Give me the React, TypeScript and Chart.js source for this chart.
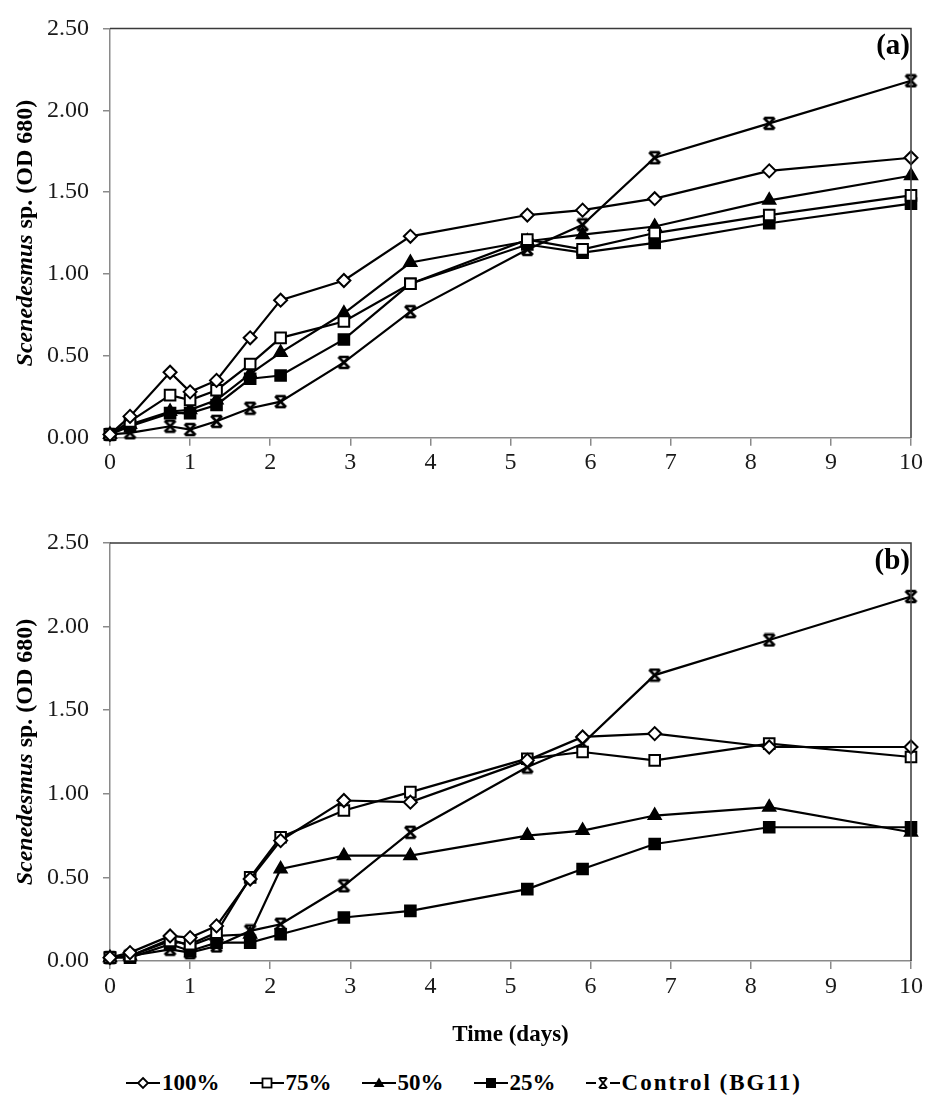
import React, { useEffect, useRef } from 'react';
import { Chart, registerables } from 'chart.js';

Chart.register(...registerables);

// ---------- data ----------
const days = [0, 0.25, 0.75, 1, 1.33, 1.75, 2.13, 2.92, 3.75, 5.21, 5.9, 6.8, 8.23, 10];
const xTickValues = [0, 1, 2, 3, 4, 5, 6, 7, 8, 9, 10];
const yTickValues = [0, 0.5, 1, 1.5, 2, 2.5];
const seriesLabels = ['100%', '75%', '50%', '25%', 'Control (BG11)'];

// panel (a)
const a100 = [0.02, 0.13, 0.40, 0.28, 0.35, 0.61, 0.84, 0.96, 1.23, 1.36, 1.39, 1.46, 1.63, 1.71];
const a75 = [0.02, 0.10, 0.26, 0.23, 0.29, 0.45, 0.61, 0.71, 0.94, 1.21, 1.15, 1.25, 1.36, 1.48];
const a50 = [0.02, 0.08, 0.16, 0.17, 0.23, 0.39, 0.52, 0.76, 1.07, 1.20, 1.24, 1.29, 1.45, 1.60];
const a25 = [0.02, 0.07, 0.15, 0.15, 0.20, 0.36, 0.38, 0.60, 0.94, 1.18, 1.13, 1.19, 1.31, 1.43];
const aControl = [0.02, 0.03, 0.07, 0.05, 0.10, 0.18, 0.22, 0.46, 0.77, 1.15, 1.30, 1.71, 1.92, 2.18];

// panel (b)
const b100 = [0.02, 0.05, 0.15, 0.14, 0.21, 0.49, 0.72, 0.96, 0.95, 1.20, 1.34, 1.36, 1.28, 1.28];
const b75 = [0.02, 0.03, 0.12, 0.10, 0.17, 0.50, 0.74, 0.90, 1.01, 1.21, 1.25, 1.20, 1.30, 1.22];
const b50 = [0.02, 0.03, 0.13, 0.09, 0.15, 0.16, 0.55, 0.63, 0.63, 0.75, 0.78, 0.87, 0.92, 0.77];
const b25 = [0.02, 0.02, 0.10, 0.06, 0.11, 0.11, 0.16, 0.26, 0.30, 0.43, 0.55, 0.70, 0.80, 0.80];
const bControl = [0.02, 0.03, 0.07, 0.05, 0.09, 0.18, 0.22, 0.45, 0.77, 1.16, 1.30, 1.71, 1.92, 2.18];

const FONT = "'Liberation Serif', 'Times New Roman', serif";

function makeHourglass(r: number): HTMLCanvasElement {
  const s = Math.ceil(r * 2 + 4);
  const c = document.createElement('canvas');
  c.width = s;
  c.height = s;
  const ctx = c.getContext('2d')!;
  const m = s / 2;
  ctx.strokeStyle = '#000';
  ctx.lineWidth = 2.6;
  ctx.beginPath();
  ctx.moveTo(m - r, m - r);
  ctx.lineTo(m + r, m + r);
  ctx.moveTo(m + r, m - r);
  ctx.lineTo(m - r, m + r);
  ctx.moveTo(m - r * 0.9, m - r);
  ctx.lineTo(m + r * 0.9, m - r);
  ctx.moveTo(m - r * 0.9, m + r);
  ctx.lineTo(m + r * 0.9, m + r);
  ctx.stroke();
  return c;
}

function buildDatasets(series: number[][], hourglass: HTMLCanvasElement) {
  const styles: any[] = [
    { pointStyle: 'rectRot', pointRadius: 6.5, pointBackgroundColor: '#fff' },
    { pointStyle: 'rect', pointRadius: 7.5, pointBackgroundColor: '#fff' },
    { pointStyle: 'triangle', pointRadius: 7, pointBackgroundColor: '#000' },
    { pointStyle: 'rect', pointRadius: 7.5, pointBackgroundColor: '#000' },
    { pointStyle: hourglass, pointRadius: 6, pointBackgroundColor: '#000' },
  ];
  return series.map((vals, i) => ({
    label: seriesLabels[i],
    data: days.map((d, j) => ({ x: d, y: vals[j] })),
    borderColor: '#000',
    borderWidth: 2.2,
    pointBorderColor: '#000',
    pointBorderWidth: 2,
    clip: false as any,
    ...styles[i],
  }));
}

const framePlugin = {
  id: 'frameAndLabels',
  afterDraw(chart: any) {
    const { ctx, chartArea } = chart;
    const o = chart.options.plugins.frameAndLabels;
    const { left, right, top, bottom } = chartArea;
    ctx.save();
    ctx.lineWidth = 1.5;
    ctx.strokeStyle = '#3a3a3a';
    ctx.beginPath();
    ctx.moveTo(left, top);
    ctx.lineTo(right, top);
    ctx.lineTo(right, bottom);
    ctx.stroke();

    // panel letter
    ctx.fillStyle = '#000';
    ctx.font = `bold 29px ${FONT}`;
    ctx.textAlign = 'right';
    ctx.textBaseline = 'top';
    ctx.fillText(o.panel, right - 1, top + 4);

    // y title
    const f1 = `italic bold 24px ${FONT}`;
    const f2 = `bold 24px ${FONT}`;
    const p1 = 'Scenedesmus';
    const p2 = ' sp. (OD 680)';
    ctx.font = f1;
    const w1 = ctx.measureText(p1).width;
    ctx.font = f2;
    const w2 = ctx.measureText(p2).width;
    const cy = (top + bottom) / 2;
    ctx.translate(26, cy);
    ctx.rotate(-Math.PI / 2);
    ctx.textAlign = 'left';
    ctx.textBaseline = 'middle';
    ctx.font = f1;
    ctx.fillText(p1, -(w1 + w2) / 2, 0);
    ctx.font = f2;
    ctx.fillText(p2, -(w1 + w2) / 2 + w1, 0);
    ctx.restore();

    if (o.xTitle) {
      ctx.save();
      ctx.fillStyle = '#000';
      ctx.font = `bold 23px ${FONT}`;
      ctx.textAlign = 'center';
      ctx.textBaseline = 'middle';
      ctx.fillText(o.xTitle, (left + right) / 2, o.xTitleY);
      ctx.restore();
    }
  },
};

function makeConfig(series: number[][], panel: string, hourglass: HTMLCanvasElement, padTop: number, xAxisH: number, xTitle?: string, xTitleY?: number): any {
  return {
    type: 'line',
    data: { datasets: buildDatasets(series, hourglass) },
    plugins: [framePlugin],
    options: {
      responsive: false,
      animation: false,
      layout: { padding: { left: 0, right: 17, top: padTop, bottom: 0 }, autoPadding: false },
      plugins: {
        legend: { display: false },
        tooltip: { enabled: false },
        frameAndLabels: { panel, xTitle, xTitleY },
      },
      scales: {
        x: {
          type: 'linear',
          min: 0,
          max: 10,
          afterBuildTicks: (s: any) => { s.ticks = xTickValues.map((v) => ({ value: v })); },
          afterFit: (s: any) => { s.height = xAxisH; },
          ticks: {
            color: '#1a1a1a',
            font: { family: FONT, size: 24 },
            padding: 3,
            maxRotation: 0,
            callback: (v: number) => String(v),
          },
          grid: { drawOnChartArea: false, drawTicks: true, tickLength: 8, color: '#8a8a8a', lineWidth: 1.5 },
          border: { display: true, color: '#8a8a8a', width: 1.5 },
        },
        y: {
          type: 'linear',
          min: 0,
          max: 2.5,
          afterBuildTicks: (s: any) => { s.ticks = yTickValues.map((v) => ({ value: v })); },
          afterFit: (s: any) => { s.width = 110; },
          ticks: {
            color: '#1a1a1a',
            font: { family: FONT, size: 24 },
            padding: 14,
            callback: (v: number) => v.toFixed(2),
          },
          grid: { drawOnChartArea: false, drawTicks: true, tickLength: 7, color: '#8a8a8a', lineWidth: 1.5 },
          border: { display: true, color: '#8a8a8a', width: 1.5 },
        },
      },
    },
  };
}

function LegendMarker({ kind }: { kind: number }) {
  let m: any = null;
  if (kind === 0) m = <polygon points="17,4 22,9 17,14 12,9" fill="#fff" stroke="#000" strokeWidth={1.8} />;
  if (kind === 1) m = <rect x={12.5} y={4.5} width={9} height={9} fill="#fff" stroke="#000" strokeWidth={1.8} />;
  if (kind === 2) m = <polygon points="17,3.5 22.5,13 11.5,13" fill="#000" />;
  if (kind === 3) m = <rect x={12} y={4} width={10} height={10} fill="#000" />;
  if (kind === 4)
    m = (
      <g stroke="#000" strokeWidth={2}>
        <line x1={13} y1={4} x2={21} y2={14} />
        <line x1={21} y1={4} x2={13} y2={14} />
        <line x1={13.5} y1={4} x2={20.5} y2={4} />
        <line x1={13.5} y1={14} x2={20.5} y2={14} />
      </g>
    );
  return (
    <svg width={34} height={18} style={{ display: 'block' }}>
      {kind === 4 ? (
        <>
          <line x1={0} y1={9} x2={10} y2={9} stroke="#000" strokeWidth={2} />
          <line x1={24} y1={9} x2={34} y2={9} stroke="#000" strokeWidth={2} />
        </>
      ) : (
        <line x1={0} y1={9} x2={34} y2={9} stroke="#000" strokeWidth={2} />
      )}
      {m}
    </svg>
  );
}

export default function App() {
  const refA = useRef<HTMLCanvasElement>(null);
  const refB = useRef<HTMLCanvasElement>(null);

  useEffect(() => {
    const hg = makeHourglass(5.5);
    const chartA = new Chart(refA.current!, makeConfig([a100, a75, a50, a25, aControl], '(a)', hg, 20, 490 - 437.7));
    const chartB = new Chart(
      refB.current!,
      makeConfig([b100, b75, b50, b25, bControl], '(b)', hg, 43, 560 - 461, 'Time (days)', 535)
    );
    return () => {
      chartA.destroy();
      chartB.destroy();
    };
  }, []);

  return (
    <div style={{ position: 'absolute', left: 0, top: 0, width: 928, height: 1106, background: '#fff', fontFamily: FONT }}>
      <canvas ref={refA} width={928} height={490} style={{ position: 'absolute', left: 0, top: 0 }} />
      <canvas ref={refB} width={928} height={560} style={{ position: 'absolute', left: 0, top: 500 }} />
      <div
        style={{
          position: 'absolute',
          left: 0,
          top: 1070,
          width: 928,
          display: 'flex',
          justifyContent: 'center',
          alignItems: 'center',
          gap: 30,
          fontWeight: 'bold',
          fontSize: 23,
          color: '#000',
        }}
      >
        {seriesLabels.map((l, i) => (
          <div key={l} style={{ display: 'flex', alignItems: 'center', gap: 2 }}>
            <LegendMarker kind={i} />
            <span style={{ letterSpacing: i === 4 ? 2 : 0 }}>{l}</span>
          </div>
        ))}
      </div>
    </div>
  );
}
